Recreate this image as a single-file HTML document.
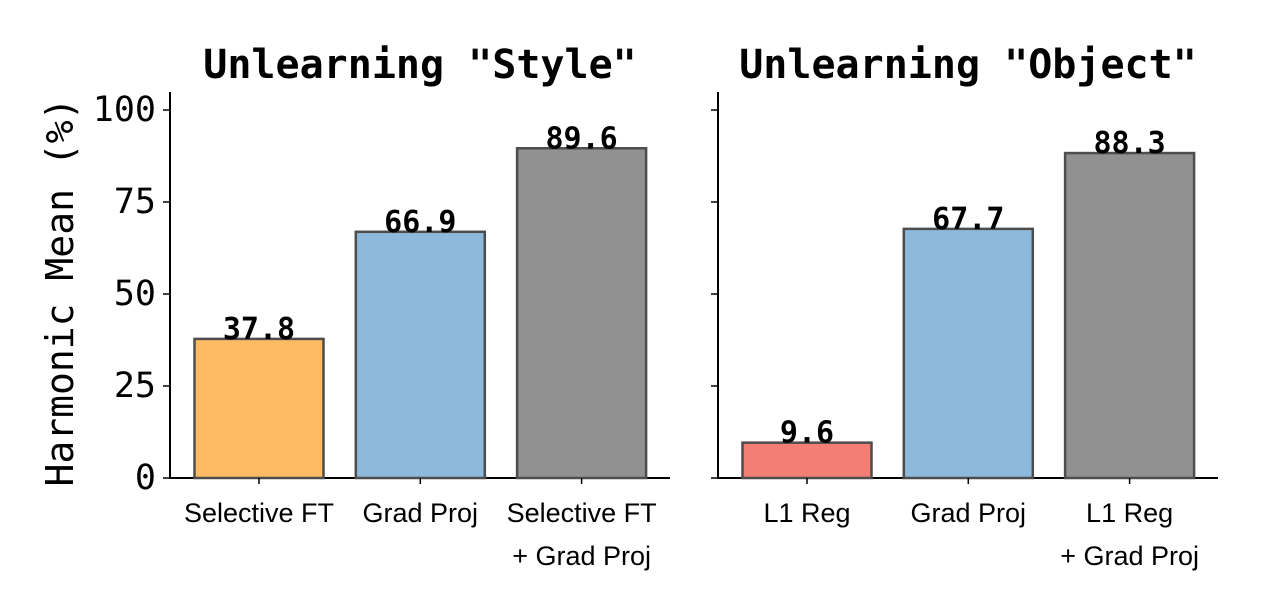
<!DOCTYPE html>
<html><head><meta charset="utf-8"><style>
body{margin:0;background:#fff;}
svg{display:block;}
.mono{font-family:"DejaVu Sans Mono","Liberation Mono",monospace;}
.sans{font-family:"Liberation Sans","DejaVu Sans",sans-serif;}
</style></head><body>
<svg id="chart" width="1263" height="590" xmlns="http://www.w3.org/2000/svg">
<text class="mono" x="73" y="292" font-size="38" text-anchor="middle" transform="rotate(-90 73 292)">Harmonic Mean (%)</text>
</svg>
<script>
const panelTitles = ['Unlearning "Style"', 'Unlearning "Object"'];
const styleCats = [["Selective FT"], ["Grad Proj"], ["Selective FT", "+ Grad Proj"]];
const styleVals = [37.8, 66.9, 89.6];
const objectCats = [["L1 Reg"], ["Grad Proj"], ["L1 Reg", "+ Grad Proj"]];
const objectVals = [9.6, 67.7, 88.3];
const yTicks = [0, 25, 50, 75, 100];
const colors = ["#fdbb63", "#8cb9dc", "#919191"];
const objColors = ["#f27e76", "#8cb9dc", "#919191"];

const svg = document.getElementById('chart');
const NS = 'http://www.w3.org/2000/svg';
function mk(tag, attrs, parent) {
  const e = document.createElementNS(NS, tag);
  for (const k in attrs) e.setAttribute(k, attrs[k]);
  (parent || svg).appendChild(e);
  return e;
}
const y0 = 478, pxPer = 3.68;
function yScale(v) { return y0 - v * pxPer; }

function panel(x0, title, cats, vals, cols, showTicks, idx) {
  const g = mk('g', {});
  
  
  const w = 500;
  const t = mk('text', {x: x0 + w / 2, y: 78, 'font-size': 40, 'font-weight': 'bold', 'text-anchor': 'middle', class: 'mono'}, g);
  t.textContent = title;
  
  
  const ya = mk('line', {x1: x0, y1: 92, x2: x0, y2: y0, stroke: '#000', 'stroke-width': 2}, g);
  
  
  const xa = mk('line', {x1: x0 - 1, y1: y0, x2: x0 + w, y2: y0, stroke: '#000', 'stroke-width': 2}, g);
  
  
  yTicks.forEach(v => {
    const tk = mk('line', {x1: x0 - 7, y1: yScale(v), x2: x0, y2: yScale(v), stroke: '#000', 'stroke-width': 1.5}, g);
    
    
    if (showTicks) {
      const tl = mk('text', {x: x0 - 14, y: yScale(v) + 11, 'font-size': 35, 'text-anchor': 'end', class: 'mono'}, g);
      tl.textContent = v;
      
      
    }
  });
  const step = 161.3, bw = 129;
  vals.forEach((v, i) => {
    const cx = x0 + 89 + i * step;
    const r = mk('rect', {x: cx - bw / 2, y: yScale(v), width: bw, height: y0 - yScale(v), fill: cols[i], stroke: '#4d4d4d', 'stroke-width': 2.5}, g);
    
    
    const vl = mk('text', {x: cx, y: yScale(v), 'font-size': 30, 'font-weight': 'bold', 'text-anchor': 'middle', class: 'mono'}, g);
    vl.textContent = v.toFixed(1);
    
    
    const tk = mk('line', {x1: cx, y1: y0, x2: cx, y2: y0 + 6, stroke: '#000', 'stroke-width': 1.5}, g);
    
    
    cats[i].forEach((line, j) => {
      const cl = mk('text', {x: cx, y: 522 + j * 43, 'font-size': 27, 'text-anchor': 'middle', class: 'sans'}, g);
      cl.textContent = line;
      
      
    });
  });
}
panel(170, panelTitles[0], styleCats, styleVals, colors, true, 0);
panel(718, panelTitles[1], objectCats, objectVals, objColors, false, 1);
</script>
</body></html>
